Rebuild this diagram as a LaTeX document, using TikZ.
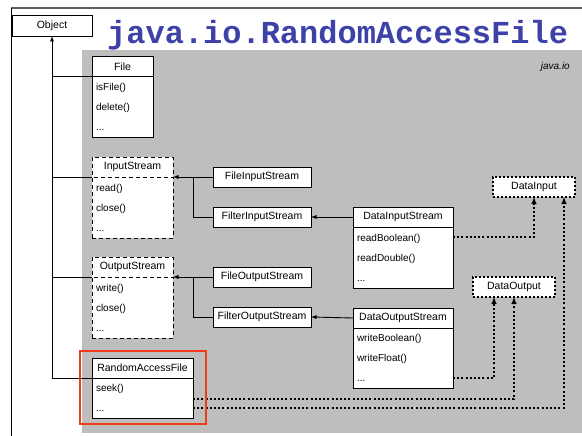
\documentclass[tikz,border=0pt]{standalone}
\usepackage{fontspec}
\setmainfont{Liberation Sans}
\newfontfamily\titlefont{Liberation Mono}
\usetikzlibrary{shapes,arrows,positioning,calc}
\definecolor{pkggray}{RGB}{190,190,190}
\definecolor{titleblue}{RGB}{62,66,168}
\definecolor{framegray}{RGB}{95,95,95}
\definecolor{hilite}{RGB}{240,58,24}

\tikzset{
  classhead/.style={draw, fill=white, rectangle, minimum height=20pt, outer sep=0pt, inner sep=2pt, line width=0.9pt, font=\fontsize{10.5}{12}\selectfont},
  classbody/.style={draw, fill=white, rectangle, minimum height=61pt, outer sep=0pt, inner xsep=4pt, inner ysep=2pt, align=left, line width=0.9pt, font=\fontsize{10}{20}\selectfont},
  abstract/.style={dash pattern=on 4pt off 3pt},
  iface/.style={draw, fill=white, rectangle, minimum width=82pt, minimum height=20pt, outer sep=0pt, line width=1.5pt, dash pattern=on 2pt off 2pt, font=\fontsize{10.5}{12}\selectfont},
  inherit/.style={line width=0.9pt},
  realize/.style={line width=1.4pt, dash pattern=on 2pt off 2.2pt},
}

\begin{document}
\begin{tikzpicture}[x=1pt, y=-1pt]
    \useasboundingbox (0,0) rectangle (582,436);
    \fill[pkggray] (82,50) rectangle (582,433);
    \draw[framegray, line width=1.5pt] (11,8) -- (582,8);
    \draw[line width=0.8pt] (11,8) -- (11,436);

    \node[inner sep=0pt, anchor=base west, text=titleblue, font=\titlefont\bfseries\fontsize{32}{32}\selectfont] (title) at (107,44) {java.io.RandomAccessFile};
    \node[inner sep=0pt, anchor=east, font=\itshape\fontsize{10}{12}\selectfont] (pkg) at (570,67) {java.io};

    \node[classhead, minimum width=80pt, minimum height=21pt] (obj) at (52,25.5) {Object};

    % java.io classes
    \node[classhead, minimum width=61pt] (filehead) at (122.5,66.5) {File};
    \node[classbody, text width=53pt, below=0pt of filehead] (filebody) {isFile()\\delete()\\...};

    \node[classhead, abstract, minimum width=81pt] (ishead) at (132.5,167) {InputStream};
    \node[classbody, abstract, text width=73pt, below=0pt of ishead] (isbody) {read()\\close()\\...};

    \node[classhead, abstract, minimum width=81pt] (oshead) at (132.5,267) {OutputStream};
    \node[classbody, abstract, text width=73pt, below=0pt of oshead] (osbody) {write()\\close()\\...};

    \node[classhead, minimum width=101pt] (rafhead) at (142.5,368) {RandomAccessFile};
    \node[classbody, minimum height=40pt, text width=93pt, below=0pt of rafhead] (rafbody) {seek()\\...};

    \node[classhead, minimum width=98pt] (fis) at (262,177) {FileInputStream};
    \node[classhead, minimum width=98pt, below=20pt of fis] (filterin) {FilterInputStream};
    \node[classhead, minimum width=98pt] (fos) at (262,277) {FileOutputStream};
    \node[classhead, minimum width=98pt, below=20pt of fos] (filterout) {FilterOutputStream};

    \node[classhead, minimum width=100pt] (dishead) at (403,217) {DataInputStream};
    \node[classbody, text width=92pt, below=0pt of dishead] (disbody) {readBoolean()\\readDouble()\\...};

    \node[classhead, minimum width=100pt] (doshead) at (403,318) {DataOutputStream};
    \node[classbody, minimum height=60pt, text width=92pt, below=0pt of doshead] (dosbody) {writeBoolean()\\writeFloat()\\...};

    \node[iface] (din) at (534,187) {DataInput};
    \node[iface] (dout) at (514,287) {DataOutput};

    % inheritance
    \draw[inherit, -latex] (rafbody.north west) -| (obj.south);
    \draw[inherit] (filebody.north west) -- (filebody.north west -| obj.south);
    \draw[inherit] (isbody.north west) -- (isbody.north west -| obj.south);
    \draw[inherit] (osbody.north west) -- (osbody.north west -| obj.south);

    \coordinate (injoint) at ($(isbody.north east)!0.5!(fis.west)$);
    \coordinate (outjoint) at ($(osbody.north east)!0.5!(fos.west)$);
    \draw[inherit, -latex] (fis.west) -- (isbody.north east);
    \draw[inherit] (filterin.west) -| (injoint);
    \draw[inherit, -latex] (fos.west) -- (osbody.north east);
    \draw[inherit] (filterout.west) -| (outjoint);

    \draw[inherit, -latex] (dishead.west) -- (filterin.east);
    \draw[inherit, -latex] (doshead.west) -- (filterout.east);

    % interfaces
    \draw[realize, -latex] ([yshift=-10pt]disbody.north east) -| (din.south);
    \draw[realize, -latex] ([yshift=10pt]dosbody.south east) -| ([xshift=-20pt]dout.south);
    \draw[realize, -latex] ([yshift=-1pt]rafbody.east) -| (dout.south);
    \draw[realize, -latex] ([yshift=-10pt]rafbody.east) -| ([xshift=30pt]din.south);

    \draw[hilite, line width=2.2pt] ($(rafhead.north west)+(-12,-7)$) rectangle ($(rafbody.south east)+(13,6)$);
\end{tikzpicture}
\end{document}
